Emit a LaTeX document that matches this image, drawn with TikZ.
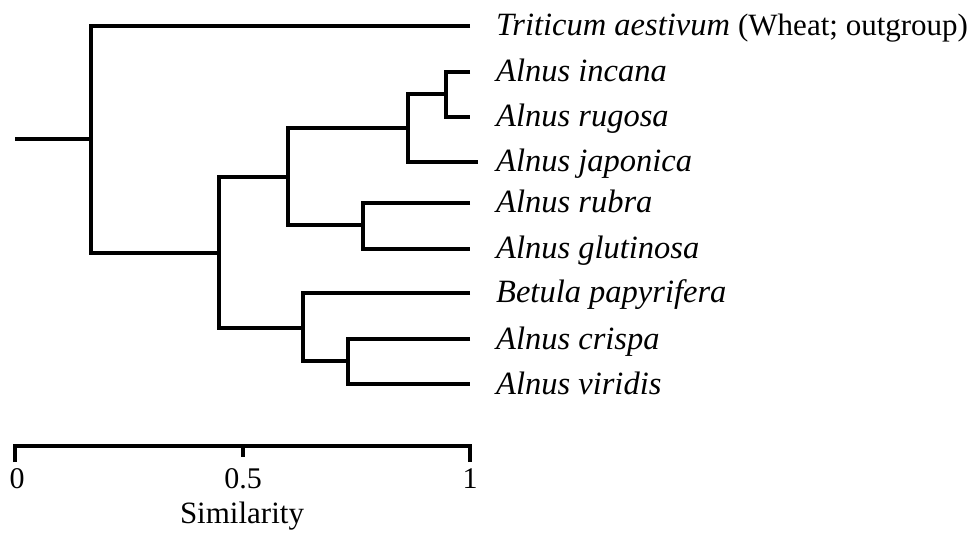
\documentclass[tikz,border=0pt]{standalone}
\usepackage{fontspec}
\setmainfont{Liberation Serif}
\begin{document}
\begin{tikzpicture}[x=1pt,y=-1pt,
  branch/.style={line width=3.3pt,line join=miter,line cap=butt},
  taxon/.style={anchor=base west,inner sep=0pt,font=\fontsize{32.5}{38}\selectfont\itshape},
  ticklabel/.style={anchor=base,inner sep=0pt,font=\fontsize{30}{36}\selectfont},
  axislabel/.style={anchor=base,inner sep=0pt,font=\fontsize{31}{36}\selectfont}]
\useasboundingbox (0,0) rectangle (971,534);
% leaf ends
\coordinate (tri) at (470,26);
\coordinate (inc) at (470,72);
\coordinate (rug) at (470,117);
\coordinate (jap) at (478,162);
\coordinate (rub) at (470,203);
\coordinate (glu) at (470,249);
\coordinate (bet) at (470,293);
\coordinate (cri) at (470,339);
\coordinate (vir) at (470,384);
% internal nodes
\coordinate (root) at (15,139);
\coordinate (n0) at (91,139);
\coordinate (n1) at (219,253);
\coordinate (n2) at (288,177);
\coordinate (n3) at (408,128);
\coordinate (n4) at (446,94);
\coordinate (n5) at (363,225);
\coordinate (n6) at (303,328);
\coordinate (n7) at (348,361);
% labels
\node[taxon] (tTri) at (496,36) {Triticum aestivum \fontsize{31}{36}\selectfont\upshape(Wheat; outgroup)};
\node[taxon] (tInc) at (496,82) {Alnus incana};
\node[taxon] (tRug) at (496,127) {Alnus rugosa};
\node[taxon] (tJap) at (496,172) {Alnus japonica};
\node[taxon] (tRub) at (496,213) {Alnus rubra};
\node[taxon] (tGlu) at (496,259) {Alnus glutinosa};
\node[taxon] (tBet) at (496,303) {Betula papyrifera};
\node[taxon] (tCri) at (496,349) {Alnus crispa};
\node[taxon] (tVir) at (496,394) {Alnus viridis};
% tree
\draw[branch] (root) -- (n0);
\draw[branch] (tri) -| (n0) |- (n1);
\draw[branch] (n2) -| (n1) |- (n6);
\draw[branch] (n3) -| (n2) |- (n5);
\draw[branch] (n4) -| (n3) |- (jap);
\draw[branch] (inc) -| (n4) |- (rug);
\draw[branch] (rub) -| (n5) |- (glu);
\draw[branch] (bet) -| (n6) |- (n7);
\draw[branch] (cri) -| (n7) |- (vir);
% scale bar
\coordinate (s0) at (15,446);
\coordinate (s5) at (243,446);
\coordinate (s1) at (470,446);
\coordinate (s0b) at (15,462);
\coordinate (s5b) at (243,457);
\coordinate (s1b) at (470,462);
\draw[branch] (s0b) -- (s0) -- (s1) -- (s1b);
\draw[branch] (s5) -- (s5b);
\node[ticklabel] (l0) at (17,488) {0};
\node[ticklabel] (l5) at (243,488) {0.5};
\node[ticklabel] (l1) at (470,488) {1};
\node[axislabel] (xl) at (242,523) {Similarity};
\end{tikzpicture}
\end{document}
